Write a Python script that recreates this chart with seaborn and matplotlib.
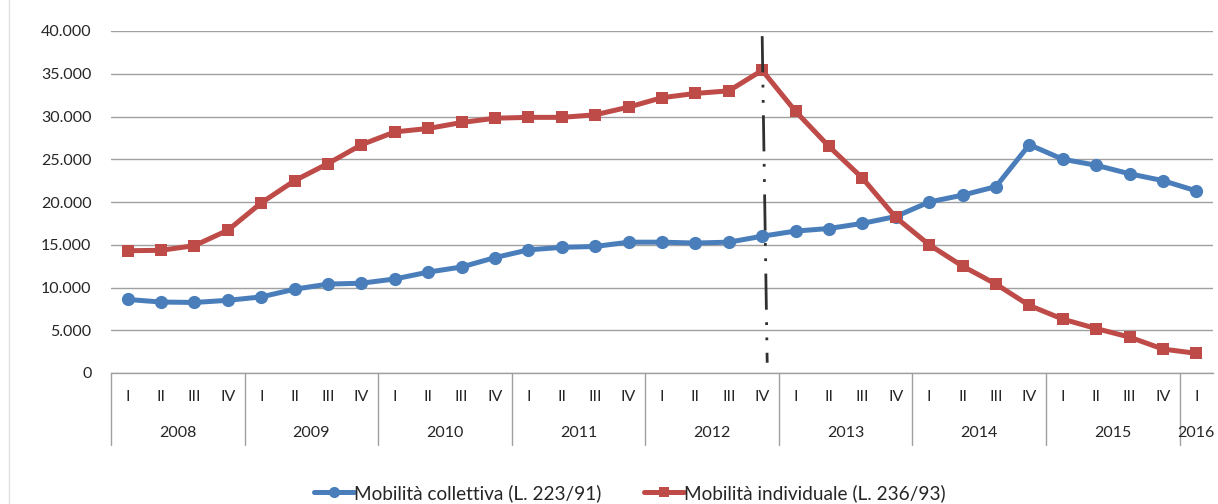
import numpy as np
import pandas as pd
import matplotlib
matplotlib.use("Agg")
import matplotlib.pyplot as plt
import matplotlib.transforms as mtransforms
from matplotlib.lines import Line2D
import seaborn as sns

years = ["2008", "2009", "2010", "2011", "2012", "2013", "2014", "2015", "2016"]
quarters = ["I", "II", "III", "IV"]
quarter_labels = [q for y in years[:-1] for q in quarters] + ["I"]

collettiva = [8600, 8300, 8250, 8500, 8900, 9800, 10400, 10500,
              11000, 11800, 12400, 13500, 14400, 14700, 14800, 15300,
              15300, 15200, 15300, 16000, 16600, 16900, 17500, 18300,
              20000, 20800, 21800, 26700, 25000, 24300, 23300, 22500,
              21300]
individuale = [14300, 14350, 14900, 16700, 19900, 22500, 24500, 26700,
               28200, 28600, 29300, 29800, 29900, 29900, 30200, 31100,
               32200, 32700, 33000, 35400, 30600, 26500, 22800, 18200,
               15000, 12500, 10400, 7900, 6300, 5200, 4200, 2800,
               2300]
series_names = ["Mobilità collettiva (L. 223/91)", "Mobilità individuale (L. 236/93)"]
y_ticks = [0, 5000, 10000, 15000, 20000, 25000, 30000, 35000, 40000]

n = len(quarter_labels)
df = pd.DataFrame({
    "idx": list(range(n)) * 2,
    "valore": collettiva + individuale,
    "serie": [series_names[0]] * n + [series_names[1]] * n,
})

sns.set_style("white")
plt.rcParams["font.family"] = ["Lato", "DejaVu Sans"]

colors = {series_names[0]: "#4A7EBB", series_names[1]: "#BE4B48"}
markers = {series_names[0]: "o", series_names[1]: "s"}
msizes = {series_names[0]: 9.5, series_names[1]: 8.3}

fig = plt.figure(figsize=(12.18, 5.04), dpi=100)
ax = fig.add_axes([111 / 1218, 1 - 373 / 504, (1213 - 111) / 1218, (373 - 31) / 504])

sns.lineplot(data=df, x="idx", y="valore", hue="serie", style="serie",
             palette=colors, markers=markers, dashes=False, linewidth=3.6,
             markersize=9, markeredgewidth=0, ax=ax, legend=False, zorder=3)
for line in ax.get_lines():
    if line.get_marker() == "o":
        line.set_markersize(msizes[series_names[0]])
    elif line.get_marker() == "s":
        line.set_markersize(msizes[series_names[1]])

ax.set_xlim(-0.5, n - 0.5)
ax.set_ylim(0, 40000)
ax.set_yticks(y_ticks)
ax.set_yticklabels([f"{v:,}".replace(",", ".") for v in y_ticks], fontsize=11.5, color="#262626")
ax.yaxis.grid(True, color="#a0a0a0", linewidth=1)
ax.set_axisbelow(True)
for s in ["left", "right", "top"]:
    ax.spines[s].set_visible(False)
ax.spines["bottom"].set_color("#a0a0a0")
ax.spines["bottom"].set_linewidth(1)
ax.tick_params(axis="y", length=0, pad=14)
ax.set_xlabel("")
ax.set_ylabel("")

# quarter tick labels
ax.set_xticks(range(n))
ax.set_xticklabels(quarter_labels, fontsize=11.5, color="#262626")
ax.tick_params(axis="x", length=0, pad=12)

# year labels and separators
trans = mtransforms.blended_transform_factory(ax.transData, ax.transAxes)
ax_h_px = 373 - 31
for i, yr in enumerate(years):
    start = i * 4 - 0.5
    end = min(start + 4, n - 0.5)
    ax.text((start + end) / 2, -60 / ax_h_px, yr, transform=trans, ha="center",
            va="center", fontsize=11.5, color="#262626")
    ax.plot([start, start], [0, -72 / ax_h_px], transform=trans, color="#a0a0a0",
            linewidth=1, clip_on=False)

# vertical dash-dot-dot line at 2012 IV
ax.plot([19.0, 19.15], [39400, 1200], color="#303030", linewidth=2,
        dashes=(13, 4.5, 1, 4.5, 1, 4.5), zorder=4)

# faint border at left of image
fig.add_artist(Line2D([9 / 1218, 9 / 1218], [0, 1], color="#e0e0e0", linewidth=1))

handles = [Line2D([0], [0], color=colors[s], marker=markers[s], linewidth=3.6,
                  markersize=msizes[s] - 1.5, markeredgewidth=0) for s in series_names]
fig.legend(handles, series_names, loc="center", bbox_to_anchor=(0.517, 0.022),
           ncol=2, frameon=False, fontsize=13.7, handlelength=2.1,
           handletextpad=0.0, columnspacing=2.25)

fig.savefig("out.png", dpi=100)
